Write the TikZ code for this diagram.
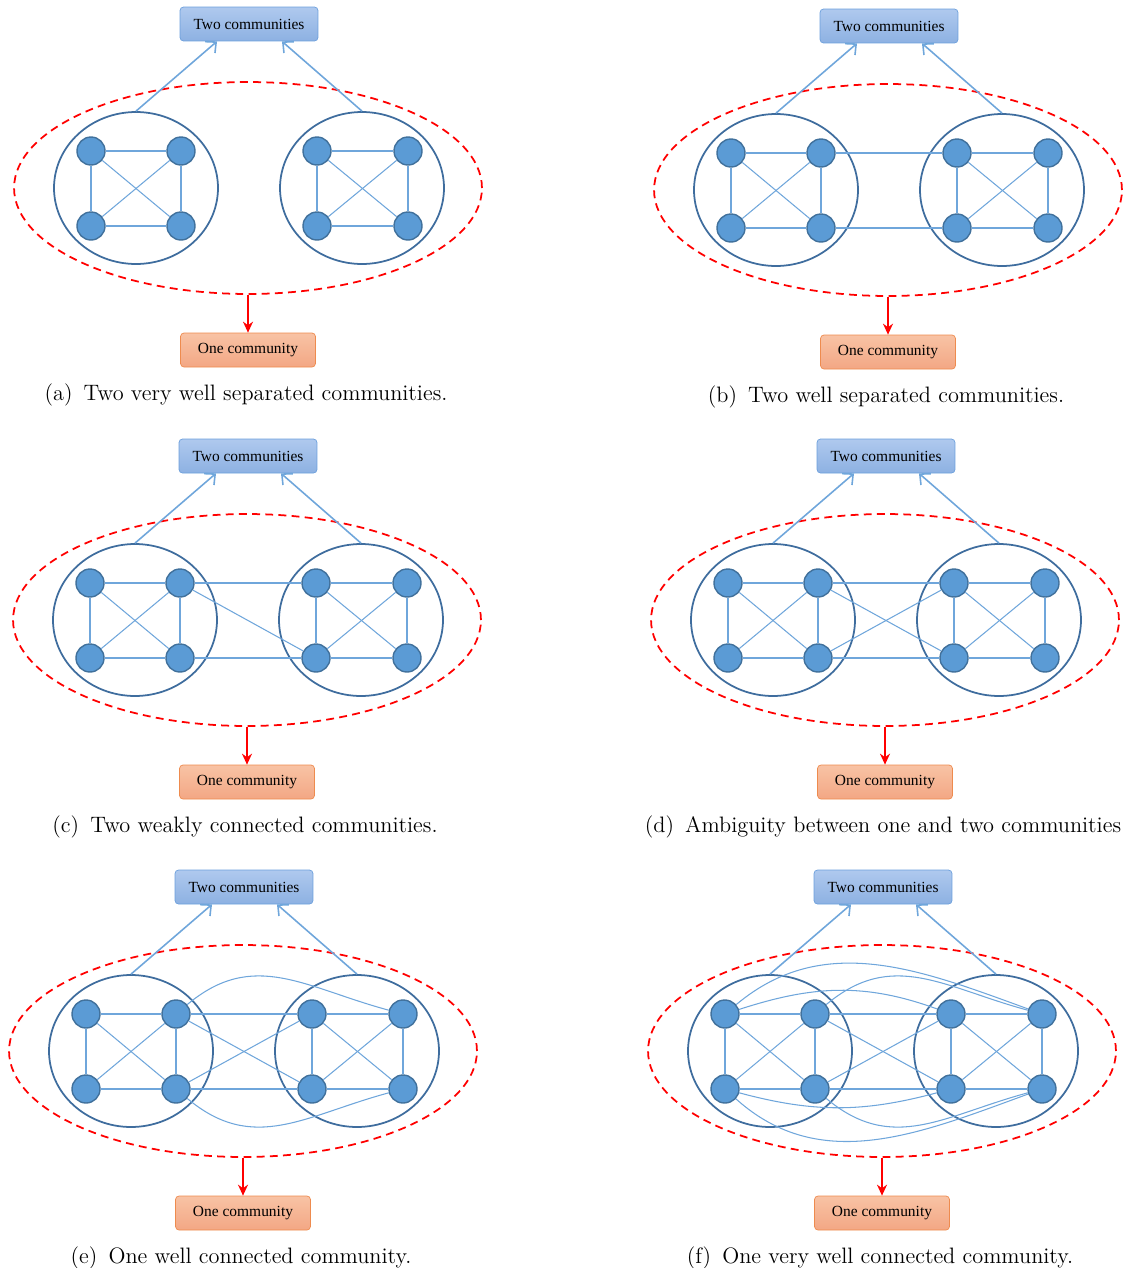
\documentclass[tikz,border=0pt]{standalone}
\usepackage{fontspec}
\usepackage{xcolor}
\usetikzlibrary{arrows.meta,shapes.geometric}
\newfontfamily\boxfont{Liberation Serif}

\definecolor{nodeblue}{HTML}{5B9BD5}
\definecolor{nodeedge}{HTML}{41719C}
\definecolor{ringblue}{HTML}{3F6D9E}
\definecolor{linkblue}{HTML}{6FA6DB}
\definecolor{topA}{HTML}{AFC9EE}
\definecolor{topB}{HTML}{8DB1E2}
\definecolor{topline}{HTML}{6B9FDC}
\definecolor{botA}{HTML}{F8C3A5}
\definecolor{botB}{HTML}{F3A784}
\definecolor{botline}{HTML}{EE8B4E}

\tikzset{
  vertex/.style={circle,fill=nodeblue,draw=nodeedge,line width=0.8pt,minimum size=0.56cm,inner sep=0pt},
  comm/.style={ellipse,draw=ringblue,line width=1pt,minimum width=3.28cm,minimum height=3.04cm,inner sep=0pt},
  redring/.style={ellipse,draw=red,dashed,dash pattern=on 4.5pt off 3pt,line width=1pt,minimum width=9.36cm,minimum height=4.24cm,inner sep=0pt},
  edge/.style={draw=linkblue,line width=0.6pt},
  uparrow/.style={draw=linkblue,line width=0.9pt,-{Straight Barb[length=1.6mm,width=3mm]}},
  downarrow/.style={draw=red,line width=0.9pt,-{Stealth[length=2.2mm,width=2mm]}},
  topbox/.style={rounded corners=2pt,draw=topline,top color=topA,bottom color=topB,minimum width=2.76cm,minimum height=0.68cm,font=\boxfont\fontsize{8.8}{10}\selectfont},
  botbox/.style={rounded corners=2pt,draw=botline,top color=botA,bottom color=botB,minimum width=2.7cm,minimum height=0.68cm,font=\boxfont\fontsize{8.8}{10}\selectfont},
  capt/.style={font=\fontsize{12.7}{15}\selectfont}
}

\begin{document}
\begin{tikzpicture}[x=0.02cm,y=-0.02cm]
\useasboundingbox (0,0) rectangle (1125,1268);

% the six panels share one layout
\foreach \p/\cx/\cy/\cap in {a/248/188/{(a)\enspace Two very well separated communities.},
                             b/888/190/{(b)\enspace Two well separated communities.},
                             c/247/620/{(c)\enspace Two weakly connected communities.},
                             d/885/620/{(d)\enspace Ambiguity between one and two communities},
                             e/243/1051/{(e)\enspace One well connected community.},
                             f/882/1051/{(f)\enspace One very well connected community.}}
{
  \begin{scope}[shift={(\cx,\cy)}]
    \node[redring] (\p E) at (0,0) {};
    \node[comm] (\p L) at (-112,0) {};
    \node[comm] (\p R) at (114,0) {};
    \node[vertex] (\p1) at (-157,-37) {};
    \node[vertex] (\p2) at (-67,-37) {};
    \node[vertex] (\p3) at (-157,38) {};
    \node[vertex] (\p4) at (-67,38) {};
    \node[vertex] (\p5) at (69,-37) {};
    \node[vertex] (\p6) at (160,-37) {};
    \node[vertex] (\p7) at (69,38) {};
    \node[vertex] (\p8) at (160,38) {};
    \node[topbox] (\p T) at (1,-164) {Two communities};
    \node[botbox] (\p B) at (0,162) {One community};
    \node[capt] (\p C) at (-2,207) {\cap};
    % links inside each community
    \foreach \s/\t in {1/2,3/4,1/3,2/4,1/4,2/3,5/6,7/8,5/7,6/8,5/8,6/7}
      \draw[edge] (\p\s) -- (\p\t);
    % arrows
    \draw[uparrow] (\p L.north) -- ([xshift=-0.64cm]\p T.south);
    \draw[uparrow] (\p R.north) -- ([xshift=0.66cm]\p T.south);
    \draw[downarrow] (\p E.south) -- (\p B.north);
  \end{scope}
}

% links between the communities
\foreach \s/\t in {2/5,4/7}
  \draw[edge] (b\s) -- (b\t);
\foreach \s/\t in {2/5,4/7,2/7}
  \draw[edge] (c\s) -- (c\t);
\foreach \s/\t in {2/5,4/7,2/7,4/5}
  \draw[edge] (d\s) -- (d\t);
\foreach \s/\t in {2/5,4/7,2/7,4/5}
  \draw[edge] (e\s) -- (e\t);
\draw[edge] (e2) to[out=40,in=165,looseness=1.1] (e6);
\draw[edge] (e4) to[out=-40,in=-165,looseness=1.1] (e8);
\foreach \s/\t in {2/5,4/7,2/7,4/5}
  \draw[edge] (f\s) -- (f\t);
\draw[edge] (f2) to[out=40,in=165,looseness=1.1] (f6);
\draw[edge] (f1) to[out=40,in=160] (f6);
\draw[edge] (f1) to[out=18,in=160] (f5);
\draw[edge] (f4) to[out=-40,in=-165,looseness=1.1] (f8);
\draw[edge] (f3) to[out=-42,in=-160] (f8);
\draw[edge] (f3) to[out=-15,in=-165] (f7);
\end{tikzpicture}
\end{document}
